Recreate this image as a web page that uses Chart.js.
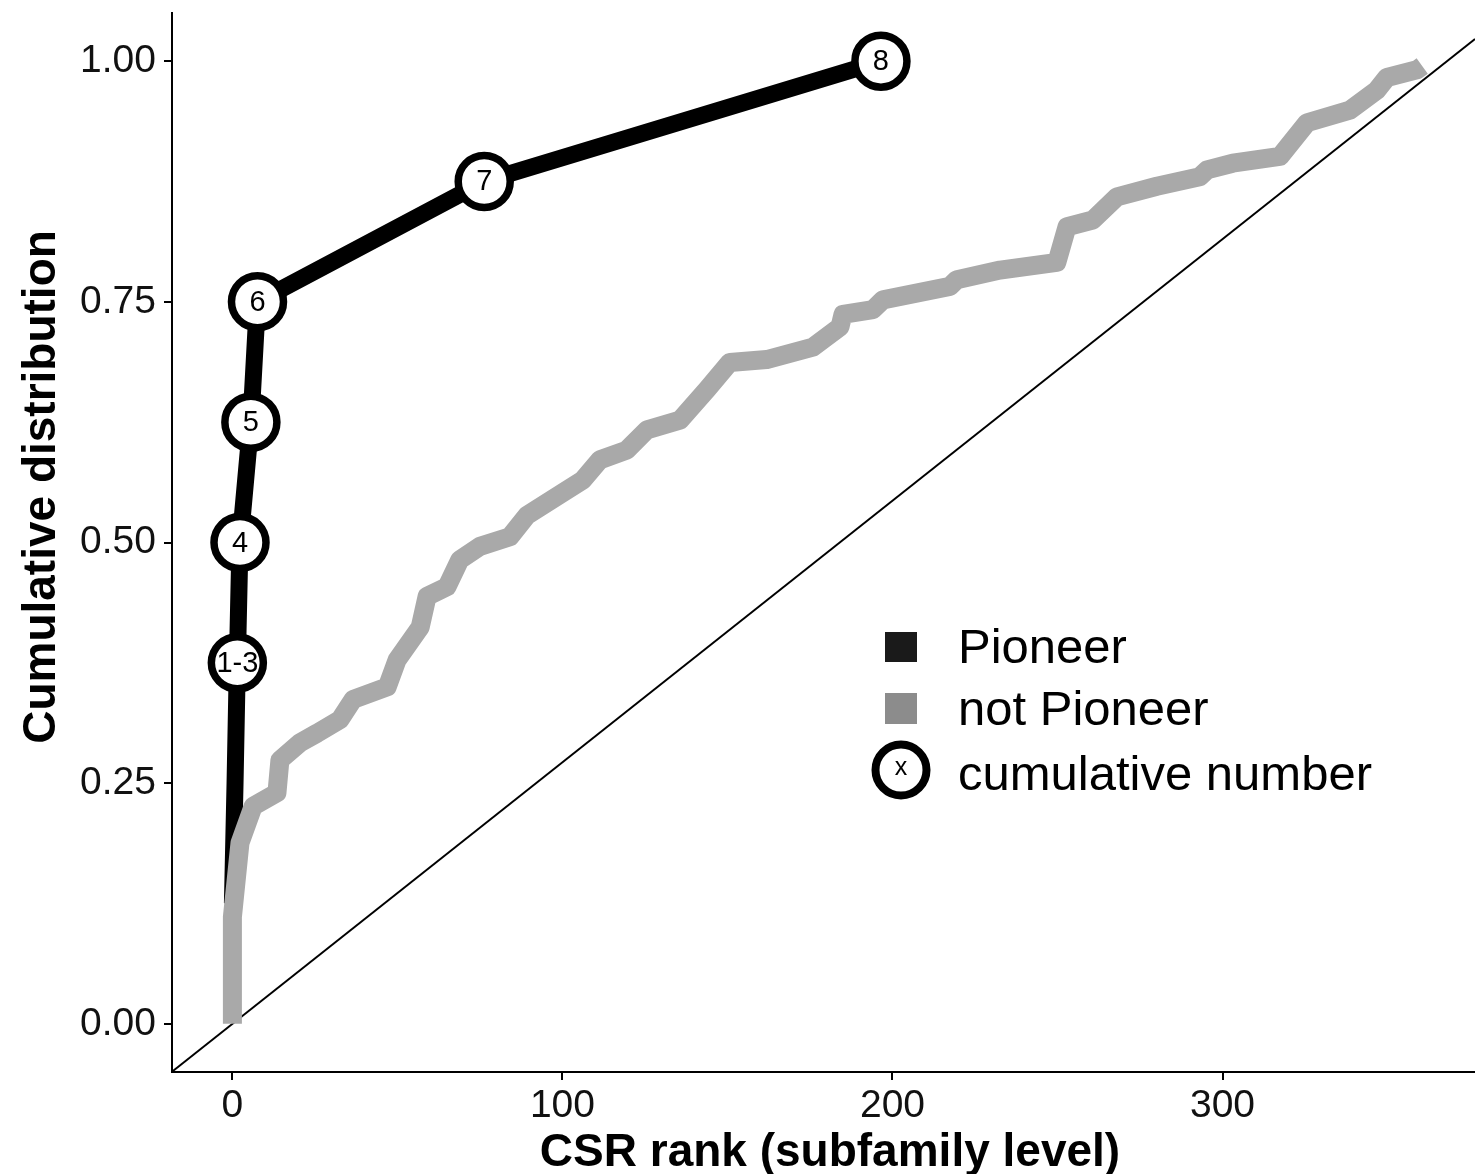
<!DOCTYPE html>
<html>
<head>
<meta charset="utf-8">
<script src="https://cdn.jsdelivr.net/npm/chart.js@4.4.1/dist/chart.umd.min.js"></script>
<style>
  html, body { margin: 0; padding: 0; background: #fff; }
  #wrap { width: 1475px; height: 1174px; }
</style>
</head>
<body>
<div id="wrap"><canvas id="cdf"></canvas></div>
<script>
// pioneer subfamilies: rank vs cumulative share
const pioneerRank = [0, 0.8, 1.5, 2.3, 5.6, 7.6, 76.3, 196.5];
const pioneerCum  = [0.125, 0.25, 0.375, 0.5, 0.625, 0.75, 0.875, 1.0];

// circled cumulative numbers
const markerRank   = [1.5, 2.3, 5.6, 7.6, 76.3, 196.5];
const markerCum    = [0.375, 0.5, 0.625, 0.75, 0.875, 1.0];
const markerLabels = ['1-3', '4', '5', '6', '7', '8'];

// everything else
const otherRank = [0, 0, 2.3, 6.3, 13.5, 14.4, 20.5, 25.7, 32.6, 36.6, 46.9, 49.9, 56.9, 59.0,
  65.0, 68.9, 75.0, 84.1, 89.2, 100.2, 106.2, 111.4, 119.5, 125.6, 135.6, 143.8, 150.7,
  161.9, 175.9, 184.1, 185.0, 194.1, 197.1, 217.4, 219.5, 232.6, 249.8, 252.9, 260.7,
  268.0, 280.1, 293.1, 295.3, 303.1, 317.4, 325.6, 338.6, 346.8, 349.8, 358.9, 360.5];
const otherCum = [0, 0.111, 0.188, 0.226, 0.240, 0.274, 0.292, 0.302, 0.316, 0.337, 0.350,
  0.378, 0.412, 0.444, 0.454, 0.482, 0.496, 0.506, 0.528, 0.552, 0.565, 0.586, 0.596,
  0.617, 0.627, 0.659, 0.687, 0.690, 0.703, 0.724, 0.737, 0.742, 0.752, 0.766, 0.773,
  0.783, 0.791, 0.828, 0.835, 0.859, 0.870, 0.880, 0.887, 0.894, 0.901, 0.936, 0.949,
  0.970, 0.983, 0.991, 0.995];

// uniform reference line
const diagRank = [-18.3, 376.5];
const diagCum  = [-0.0497, 1.023];

const xTicks = [0, 100, 200, 300];
const yTicks = [0, 0.25, 0.5, 0.75, 1];

const pts = (xs, ys) => xs.map((x, i) => ({ x: x, y: ys[i] }));

const FONT = 'Liberation Sans, Arial, Helvetica, sans-serif';

const labelPlugin = {
  id: 'markerLabels',
  afterDatasetsDraw(chart) {
    const ctx = chart.ctx;
    const meta = chart.getDatasetMeta(0);
    ctx.save();
    ctx.fillStyle = '#000';
    ctx.font = '29px ' + FONT;
    ctx.textAlign = 'center';
    ctx.textBaseline = 'middle';
    meta.data.forEach((el, i) => {
      ctx.fillText(markerLabels[i], el.x, el.y + 1);
    });
    ctx.restore();
  }
};

const decorPlugin = {
  id: 'decor',
  afterDraw(chart) {
    const ctx = chart.ctx;
    ctx.save();
    // axis titles
    ctx.fillStyle = '#000';
    ctx.font = 'bold 46px ' + FONT;
    ctx.textAlign = 'center';
    ctx.textBaseline = 'alphabetic';
    ctx.fillText('CSR rank (subfamily level)', 830, 1166);
    ctx.save();
    ctx.translate(55, 487);
    ctx.rotate(-Math.PI / 2);
    ctx.fillText('Cumulative distribution', 0, 0);
    ctx.restore();

    // legend
    ctx.fillStyle = '#1a1a1a';
    ctx.fillRect(885, 632, 32, 30);
    ctx.fillStyle = '#8c8c8c';
    ctx.fillRect(885, 693, 32, 31);
    ctx.beginPath();
    ctx.arc(901, 770, 25.5, 0, Math.PI * 2);
    ctx.fillStyle = '#fff';
    ctx.fill();
    ctx.lineWidth = 8;
    ctx.strokeStyle = '#000';
    ctx.stroke();
    ctx.fillStyle = '#000';
    ctx.font = '25px ' + FONT;
    ctx.textBaseline = 'middle';
    ctx.fillText('x', 901, 768);

    ctx.font = '49px ' + FONT;
    ctx.textAlign = 'left';
    ctx.textBaseline = 'alphabetic';
    ctx.fillText('Pioneer', 958, 663);
    ctx.fillText('not Pioneer', 958, 725);
    ctx.fillText('cumulative number', 958, 790);
    ctx.restore();
  }
};

new Chart(document.getElementById('cdf'), {
  type: 'scatter',
  data: {
    datasets: [
      {
        label: 'cumulative number',
        data: pts(markerRank, markerCum),
        showLine: false,
        pointRadius: 26,
        pointBorderWidth: 7.5,
        pointBackgroundColor: '#fff',
        pointBorderColor: '#000',
        order: 0
      },
      {
        label: 'not Pioneer',
        data: pts(otherRank, otherCum),
        showLine: true,
        borderColor: '#a9a9a9',
        borderWidth: 19,
        borderJoinStyle: 'round',
        borderCapStyle: 'butt',
        pointRadius: 0,
        order: 1
      },
      {
        label: 'Pioneer',
        data: pts(pioneerRank, pioneerCum),
        showLine: true,
        borderColor: '#000',
        borderWidth: 17,
        borderJoinStyle: 'round',
        pointRadius: 0,
        order: 2
      },
      {
        label: 'diag',
        data: pts(diagRank, diagCum),
        showLine: true,
        borderColor: '#000',
        borderWidth: 2,
        pointRadius: 0,
        order: 3
      }
    ]
  },
  options: {
    responsive: true,
    maintainAspectRatio: false,
    animation: false,
    devicePixelRatio: 1,
    layout: { autoPadding: false, padding: { top: 13, right: 0, left: 0, bottom: 0 } },
    plugins: {
      legend: { display: false },
      tooltip: { enabled: false }
    },
    scales: {
      x: {
        type: 'linear',
        min: -18.3,
        max: 376.5,
        afterBuildTicks: s => { s.ticks = xTicks.map(v => ({ value: v })); },
        afterFit: s => {
          s.height = 102;
          s.paddingLeft = 0; s.paddingRight = 0;
        },
        grid: { drawOnChartArea: false, tickLength: 8, color: '#000', lineWidth: 2 },
        border: { color: '#000', width: 2 },
        ticks: {
          font: { family: FONT, size: 39 },
          color: '#111',
          padding: 3,
          maxRotation: 0,
          autoSkip: false
        }
      },
      y: {
        type: 'linear',
        min: -0.05,
        max: 1.05,
        afterBuildTicks: s => { s.ticks = yTicks.map(v => ({ value: v })); },
        afterFit: s => {
          s.width = 172;
          s.paddingTop = 0; s.paddingBottom = 0;
        },
        grid: { drawOnChartArea: false, tickLength: 8, color: '#000', lineWidth: 2 },
        border: { color: '#000', width: 2 },
        ticks: {
          font: { family: FONT, size: 39 },
          color: '#111',
          padding: 8,
          callback: v => v.toFixed(2)
        }
      }
    }
  },
  plugins: [labelPlugin, decorPlugin]
});
</script>
</body>
</html>
